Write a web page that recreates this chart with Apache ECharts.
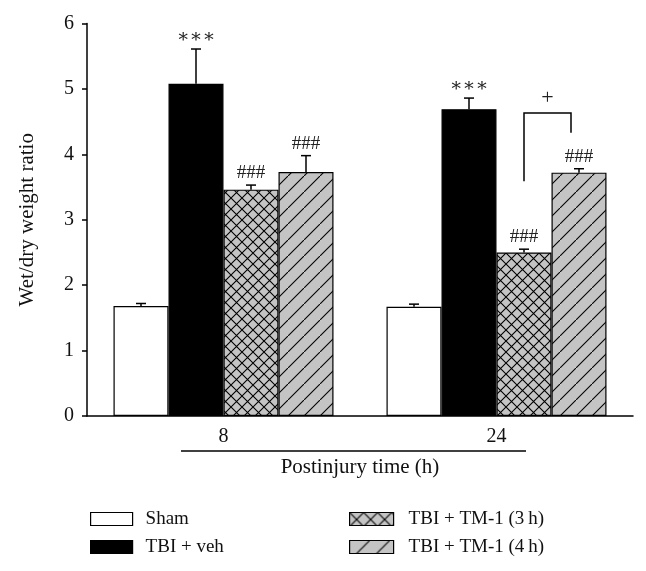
<!DOCTYPE html>
<html>
<head>
<meta charset="utf-8">
<script src="https://cdn.jsdelivr.net/npm/echarts@6/dist/echarts.min.js"></script>
<style>html,body{margin:0;padding:0;background:#fff}#c{width:646px;height:571px}</style>
</head>
<body>
<div id="c"></div>
<script>
// ---- data ----
const categories = ['8', '24'];
const seriesNames = ['Sham', 'TBI + veh', 'TBI + TM-1 (3\u2009h)', 'TBI + TM-1 (4\u2009h)'];
const shamValues = [1.68, 1.67];
const vehValues = [5.08, 4.69];
const tm3hValues = [3.46, 2.50];
const tm4hValues = [3.73, 3.72];
const shamErr = [0.04, 0.04];
const vehErr = [0.53, 0.17];
const tm3hErr = [0.07, 0.05];
const tm4hErr = [0.25, 0.06];
const shamMarks = ['', ''];
const vehMarks = ['\u2217\u2217\u2217', '\u2217\u2217\u2217'];
const tm3hMarks = ['###', '###'];
const tm4hMarks = ['###', '###'];
const yTicks = [0, 1, 2, 3, 4, 5, 6];
// comparison bracket at 24 h: between 3 h and 4 h groups
const bracketCategory = 1;
const bracketTop = 4.63;
const bracketLeftEnd = 3.59;
const bracketRightEnd = 4.33;
const bracketLabel = '+';

// ---- styling ----
const FONT = '"Liberation Serif", "DejaVu Serif", serif';
const BAR_W = 55;
const GRAY = '#c4c4c4';

function crossPattern(p) {
  const c = document.createElement('canvas');
  c.width = p; c.height = p;
  const g = c.getContext('2d');
  g.fillStyle = GRAY; g.fillRect(0, 0, p, p);
  g.strokeStyle = '#000'; g.lineWidth = 1.1;
  g.beginPath();
  g.moveTo(0, 0); g.lineTo(p, p);
  g.moveTo(p, 0); g.lineTo(0, p);
  g.stroke();
  return c;
}
function diagPattern(p) {
  const c = document.createElement('canvas');
  c.width = p; c.height = p;
  const g = c.getContext('2d');
  g.fillStyle = GRAY; g.fillRect(0, 0, p, p);
  g.strokeStyle = '#000'; g.lineWidth = 1.1;
  g.beginPath();
  g.moveTo(-2, p + 2); g.lineTo(p + 2, -2);
  g.stroke();
  return c;
}

const fills = [
  '#ffffff',
  '#000000',
  { image: crossPattern(11), repeat: 'repeat' },
  { image: diagPattern(16), repeat: 'repeat' }
];
const legendFills = [
  '#ffffff',
  '#000000',
  { image: crossPattern(14), repeat: 'repeat' },
  { image: diagPattern(20), repeat: 'repeat' }
];
const valueSets = [shamValues, vehValues, tm3hValues, tm4hValues];
const errSets = [shamErr, vehErr, tm3hErr, tm4hErr];
const markSets = [shamMarks, vehMarks, tm3hMarks, tm4hMarks];

const barSeries = seriesNames.map((n, i) => ({
  name: n,
  type: 'bar',
  data: valueSets[i],
  barWidth: BAR_W,
  barGap: '0%',
  itemStyle: { color: fills[i], borderColor: '#000', borderWidth: 1.2 },
  emphasis: { disabled: true },
  z: 2
}));

const errData = [];
valueSets.forEach((vals, si) => {
  vals.forEach((v, ci) => errData.push([ci, v, errSets[si][ci], si, markSets[si][ci]]));
});

const errSeries = {
  type: 'custom',
  data: errData,
  z: 5,
  silent: true,
  encode: { x: 0, y: 1 },
  renderItem(params, api) {
    const ci = api.value(0), v = api.value(1), e = api.value(2), si = api.value(3);
    const mark = errData[params.dataIndex][4];
    const base = api.coord([ci, v]);
    const top = api.coord([ci, v + e]);
    const x = base[0] + (si - 1.5) * BAR_W;
    const col = '#000';
    const children = [
      { type: 'line', shape: { x1: x, y1: base[1], x2: x, y2: top[1] }, style: { stroke: col, lineWidth: 1.5 } },
      { type: 'line', shape: { x1: x - 5, y1: top[1], x2: x + 5, y2: top[1] }, style: { stroke: col, lineWidth: 1.5 } }
    ];
    if (mark) {
      children.push({
        type: 'text',
        style: { text: mark, x: x, y: top[1] - 12, align: 'center', verticalAlign: 'middle',
                 font: '19px ' + FONT, fill: '#222' }
      });
    }
    return { type: 'group', children };
  }
};

const bracketSeries = {
  type: 'custom',
  data: [[bracketCategory, bracketTop, bracketLeftEnd, bracketRightEnd]],
  z: 5,
  silent: true,
  encode: { x: 0, y: 1 },
  renderItem(params, api) {
    const ci = api.value(0);
    const topP = api.coord([ci, api.value(1)]);
    const lP = api.coord([ci, api.value(2)]);
    const rP = api.coord([ci, api.value(3)]);
    const xl = topP[0] + 0.5 * BAR_W;
    const xr = topP[0] + 1.5 * BAR_W - 8;
    return {
      type: 'group',
      children: [
        { type: 'polyline', shape: { points: [[xl, lP[1]], [xl, topP[1]], [xr, topP[1]], [xr, rP[1]]] },
          style: { stroke: '#000', lineWidth: 1.5, fill: null } },
        { type: 'text', style: { text: bracketLabel, x: (xl + xr) / 2, y: topP[1] - 15, align: 'center',
          verticalAlign: 'middle', font: '22px ' + FONT, fill: '#222' } }
      ]
    };
  }
};

const legendText = { fontSize: 19, fontFamily: FONT, color: '#111' };

const chart = echarts.init(document.getElementById('c'), null, { renderer: 'canvas' });
chart.setOption({
  animation: false,
  backgroundColor: '#fff',
  textStyle: { fontFamily: FONT },
  grid: { left: 87, right: 13, top: 23.5, bottom: 155, containLabel: false },
  xAxis: {
    type: 'category',
    data: categories,
    axisLine: { lineStyle: { color: '#000', width: 1.5 } },
    axisTick: { show: false },
    axisLabel: { color: '#111', fontSize: 20, fontFamily: FONT, margin: 11 },
    name: 'Postinjury time (h)',
    nameLocation: 'middle',
    nameGap: 41,
    nameTextStyle: { color: '#111', fontSize: 21, fontFamily: FONT }
  },
  yAxis: {
    type: 'value',
    min: yTicks[0],
    max: yTicks[yTicks.length - 1],
    interval: 1,
    splitLine: { show: false },
    axisLine: { show: true, lineStyle: { color: '#000', width: 1.5 } },
    axisTick: { show: true, length: 5, lineStyle: { color: '#000', width: 1.5 } },
    axisLabel: { color: '#111', fontSize: 20, fontFamily: FONT, margin: 13 },
    name: 'Wet/dry weight ratio',
    nameLocation: 'middle',
    nameGap: 49,
    nameTextStyle: { color: '#111', fontSize: 21, fontFamily: FONT }
  },
  legend: [
    {
      data: [
        { name: seriesNames[0], itemStyle: { color: legendFills[0], borderColor: '#000', borderWidth: 1.2 } },
        { name: seriesNames[1], itemStyle: { color: legendFills[1], borderColor: '#000', borderWidth: 1.2 } }
      ],
      orient: 'vertical', left: 90, top: 509.5, padding: 0,
      itemWidth: 42, itemHeight: 13, itemGap: 9,
      selectedMode: false,
      textStyle: Object.assign({ padding: [0, 0, 0, 8] }, legendText),
      icon: 'rect'
    },
    {
      data: [
        { name: seriesNames[2], itemStyle: { color: legendFills[2], borderColor: '#000', borderWidth: 1.2 } },
        { name: seriesNames[3], itemStyle: { color: legendFills[3], borderColor: '#000', borderWidth: 1.2 } }
      ],
      orient: 'vertical', left: 349, top: 509.5, padding: 0,
      itemWidth: 44, itemHeight: 13, itemGap: 9,
      selectedMode: false,
      textStyle: Object.assign({ padding: [0, 0, 0, 10] }, legendText),
      icon: 'rect'
    }
  ],
  graphic: [
    { type: 'line', shape: { x1: 181, y1: 451, x2: 526, y2: 451 }, style: { stroke: '#000', lineWidth: 1.5 } }
  ],
  series: [...barSeries, errSeries, bracketSeries]
});
</script>
</body>
</html>
